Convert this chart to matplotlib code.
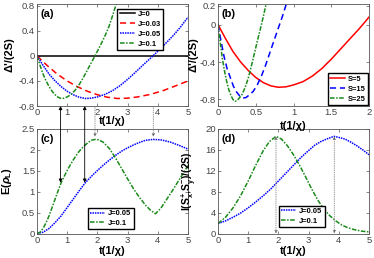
import matplotlib
matplotlib.use("Agg")
import matplotlib.pyplot as plt
from matplotlib.patches import ConnectionPatch
from matplotlib.ticker import FuncFormatter

# (a) Delta'/(2S) vs t for several J
t_a_red = [0, 0.33, 0.67, 1.0, 1.33, 1.67, 2.0, 2.33, 2.67, 3.0, 3.33, 3.75, 4.17, 4.58, 5.0]
d_a_red = [0, -0.15, -0.29, -0.40, -0.49, -0.565, -0.62, -0.66, -0.68, -0.675, -0.655, -0.615, -0.555, -0.48, -0.40]
t_a_blue = [0, 0.2, 0.4, 0.6, 0.8, 1.0, 1.2, 1.4, 1.6, 1.8, 2.0, 2.25, 2.5, 2.75, 3.0,
            3.25, 3.5, 3.75, 4.0, 4.25, 4.5, 4.75, 5.0]
d_a_blue = [0, -0.15, -0.29, -0.40, -0.49, -0.565, -0.62, -0.66, -0.68, -0.675, -0.655, -0.615,
            -0.555, -0.475, -0.375, -0.265, -0.15, -0.04, 0.075, 0.195, 0.32, 0.46, 0.62]
t_a_green = [0, 0.1, 0.2, 0.3, 0.4, 0.5, 0.6, 0.7, 0.8, 0.9, 1.0, 1.125, 1.25, 1.375, 1.5,
             1.625, 1.75, 1.875, 2.0, 2.125, 2.25, 2.375, 2.5, 2.625, 2.75]
d_a_green = [0, -0.15, -0.29, -0.40, -0.49, -0.565, -0.62, -0.66, -0.68, -0.675, -0.655, -0.615,
             -0.555, -0.475, -0.375, -0.265, -0.15, -0.04, 0.075, 0.195, 0.32, 0.46, 0.64, 0.83, 1.02]
t_a_zero = [0, 5]
d_a_zero = [0, 0]
labels_a = ["J=0", "J=0.03", "J=0.05", "J=0.1"]

# (b) Delta'/(2S) vs t for several S
t_b_red = [0, 0.1, 0.2, 0.3, 0.4, 0.5, 0.6, 0.7, 0.8, 0.9, 1.0, 1.125, 1.25, 1.375, 1.5,
           1.625, 1.75, 1.875, 2.0]
d_b_red = [0, -0.15, -0.29, -0.40, -0.49, -0.565, -0.62, -0.655, -0.67, -0.665, -0.645, -0.61,
           -0.55, -0.47, -0.37, -0.26, -0.15, -0.04, 0.08]
t_b_blue = [0, 0.04, 0.08, 0.12, 0.165, 0.205, 0.25, 0.29, 0.33, 0.37, 0.41, 0.465, 0.52,
            0.575, 0.63, 0.685, 0.74, 0.795, 0.85, 0.905, 0.96]
d_b_blue = [0, -0.175, -0.34, -0.47, -0.57, -0.66, -0.725, -0.765, -0.785, -0.78, -0.755, -0.715,
            -0.645, -0.55, -0.435, -0.305, -0.175, -0.047, 0.08, 0.22, 0.34]
t_b_green = [0, 0.028, 0.056, 0.085, 0.113, 0.141, 0.17, 0.198, 0.226, 0.254, 0.282, 0.32, 0.36,
             0.4, 0.44, 0.48, 0.52, 0.56, 0.6, 0.64]
d_b_green = [0, -0.18, -0.355, -0.49, -0.60, -0.69, -0.755, -0.80, -0.82, -0.81, -0.785, -0.745,
             -0.67, -0.575, -0.45, -0.315, -0.18, -0.05, 0.085, 0.23]
labels_b = ["S=5", "S=15", "S=25"]

# (c) entanglement E(rho_L)
t_c_blue = [0, 0.2, 0.4, 0.6, 0.8, 1.0, 1.2, 1.4, 1.6, 1.8, 2.0, 2.2, 2.4, 2.6, 2.8, 3.0, 3.2,
            3.4, 3.6, 3.84, 4.1, 4.4, 4.7, 5.0]
E_c_blue = [0, 0.03, 0.12, 0.26, 0.42, 0.62, 0.82, 1.02, 1.21, 1.36, 1.50, 1.63, 1.75, 1.86, 1.96,
            2.04, 2.11, 2.17, 2.22, 2.24, 2.23, 2.18, 2.10, 2.01]
t_c_green = [0, 0.1, 0.2, 0.3, 0.4, 0.5, 0.6, 0.7, 0.8, 0.9, 1.0, 1.1, 1.2, 1.3, 1.4, 1.5, 1.6,
             1.7, 1.8, 1.92, 2.05, 2.2, 2.4, 2.6, 2.8, 3.0, 3.2, 3.4, 3.6, 3.75, 3.92, 4.1, 4.3,
             4.5, 4.7, 4.85, 5.0]
E_c_green = [0, 0.03, 0.12, 0.26, 0.42, 0.62, 0.82, 1.02, 1.21, 1.36, 1.50, 1.63, 1.75, 1.86,
             1.96, 2.04, 2.11, 2.17, 2.22, 2.24, 2.23, 2.17, 2.02, 1.80, 1.55, 1.30, 1.06, 0.85,
             0.67, 0.56, 0.47, 0.60, 0.82, 1.04, 1.27, 1.44, 1.62]

# (d) I(Sx+, Sy-)/(2S)
t_d_blue = [0, 0.25, 0.5, 0.75, 1.0, 1.25, 1.5, 1.75, 2.0, 2.25, 2.5, 2.75, 3.0, 3.2, 3.4, 3.6,
            3.84, 4.0, 4.2, 4.4, 4.6, 4.8, 5.0]
I_d_blue = [1.9, 2.4, 3.1, 3.9, 4.9, 6.0, 7.2, 8.5, 10.0, 11.5, 13.0, 14.5, 15.8, 16.8, 17.5,
            18.0, 18.5, 18.3, 18.0, 17.4, 16.7, 15.9, 15.0]
t_d_green = [0, 0.25, 0.5, 0.75, 1.0, 1.25, 1.5, 1.7, 1.92, 2.1, 2.3, 2.5, 2.7, 2.9, 3.1, 3.3,
             3.5, 3.7, 3.9, 4.1, 4.3, 4.5, 4.75, 5.0]
I_d_green = [1.9, 3.1, 4.9, 7.2, 10.0, 13.0, 15.8, 17.5, 18.5, 18.0, 16.7, 15.0, 13.0, 10.8, 8.5,
             6.4, 4.7, 3.4, 2.4, 1.6, 1.1, 0.75, 0.45, 0.3]
labels_cd = ["J=0.05", "J=0.1"]

# times marked by the arrows (minima and zero crossings of panel a)
t_min = [0.78, 1.58]
t_zero = [1.92, 3.85]

RED, BLUE, GREEN = "#ff0000", "#0000ff", "#1a8a1a"
AXC = "#555555"

plt.rcParams["font.family"] = ["Liberation Sans", "DejaVu Sans"]
plt.rcParams["mathtext.fontset"] = "custom"
plt.rcParams["mathtext.rm"] = "Liberation Sans:bold"
plt.rcParams["mathtext.it"] = "Liberation Sans:italic:bold"
plt.rcParams["mathtext.bf"] = "Liberation Sans:bold"
plt.rcParams["axes.unicode_minus"] = False

fig = plt.figure(figsize=(3.74, 2.58), dpi=100)
W, H = 374, 258


def add_ax(x0, x1, y0, y1):
    return fig.add_axes([x0 / W, 1 - y1 / H, (x1 - x0) / W, (y1 - y0) / H])


ax_a = add_ax(37, 188, 4, 106)
ax_b = add_ax(218, 369, 4, 106)
ax_c = add_ax(37, 188, 128.5, 233.5)
ax_d = add_ax(218, 369, 128.5, 233.5)
# top row drawn last so its x labels are not hidden by the lower panels
ax_a.set_zorder(2)
ax_b.set_zorder(2)

fmt = FuncFormatter(lambda v, p: ("%g" % round(v, 3)))
leg_kw = dict(prop={"weight": "bold", "size": 5.4}, frameon=True, fancybox=False,
              edgecolor="black", framealpha=1, handlelength=2.0, labelspacing=0.35,
              borderpad=0.3, handletextpad=0.4)
lab_kw = dict(fontsize=8, fontweight="bold")

for ax in (ax_a, ax_b, ax_c, ax_d):
    for s in ax.spines.values():
        s.set_color(AXC)
        s.set_linewidth(0.6)
    ax.tick_params(direction="in", length=2.2, width=0.5, color=AXC, labelcolor="#444444",
                   labelsize=6.8, top=True, right=True, pad=1.5)
    ax.xaxis.set_major_formatter(fmt)
    ax.yaxis.set_major_formatter(fmt)

lw = 1.1

# panel (a)
ax_a.plot(t_a_zero, d_a_zero, color="black", lw=lw, label=labels_a[0])
ax_a.plot(t_a_red, d_a_red, color=RED, lw=lw, ls=(0, (4, 2.5)), label=labels_a[1])
ax_a.plot(t_a_blue, d_a_blue, color=BLUE, lw=lw, ls=(0, (1, 0.6)), label=labels_a[2])
ax_a.plot(t_a_green, d_a_green, color=GREEN, lw=lw, ls=(0, (3, 1, 1, 1)), label=labels_a[3])
ax_a.set_xlim(0, 5)
ax_a.set_ylim(-0.8, 0.83)
ax_a.set_yticks([-0.8, -0.4, 0, 0.4, 0.8])
ax_a.set_xticks([0, 1, 2, 3, 4, 5])
ax_a.set_ylabel("Δ'/(2S)", **lab_kw)
ax_a.set_xlabel("t(1/χ)", **lab_kw)
ax_a.yaxis.set_label_coords(-0.15, 0.5)
ax_a.xaxis.set_label_coords(0.5, -0.1)
ax_a.legend(loc="upper right", bbox_to_anchor=(0.835, 0.955), borderaxespad=0, **leg_kw)
ax_a.text(0.025, 0.95, "(a)", transform=ax_a.transAxes, fontsize=8, fontweight="bold",
          va="top", ha="left")

# panel (b)
ax_b.plot(t_b_red, d_b_red, color=RED, lw=lw, label=labels_b[0])
ax_b.plot(t_b_blue, d_b_blue, color=BLUE, lw=lw, ls=(0, (4, 2.5)), label=labels_b[1])
ax_b.plot(t_b_green, d_b_green, color=GREEN, lw=lw, ls=(0, (3, 1, 1, 1)), label=labels_b[2])
ax_b.set_xlim(0, 2)
ax_b.set_ylim(-0.87, 0.22)
ax_b.set_yticks([-0.8, -0.4, 0, 0.2])
ax_b.set_xticks([0, 0.5, 1, 1.5, 2])
ax_b.set_ylabel("Δ'/(2S)", **lab_kw)
ax_b.set_xlabel("t(1/χ)", **lab_kw)
ax_b.yaxis.set_label_coords(-0.13, 0.5)
ax_b.xaxis.set_label_coords(0.5, -0.15)
ax_b.legend(loc="lower right", bbox_to_anchor=(1.0, 0.0), borderaxespad=0.15, **leg_kw)
ax_b.text(0.025, 0.95, "(b)", transform=ax_b.transAxes, fontsize=8, fontweight="bold",
          va="top", ha="left")

# panel (c)
ax_c.plot(t_c_blue, E_c_blue, color=BLUE, lw=lw, ls=(0, (1, 0.6)), label=labels_cd[0])
ax_c.plot(t_c_green, E_c_green, color=GREEN, lw=lw, ls=(0, (3, 1, 1, 1)), label=labels_cd[1])
ax_c.set_xlim(0, 5)
ax_c.set_ylim(0, 2.5)
ax_c.set_yticks([0, 0.5, 1, 1.5, 2, 2.5])
ax_c.set_xticks([0, 1, 2, 3, 4, 5])
ax_c.set_ylabel(r"E($\rho_\mathrm{L}$)", **lab_kw)
ax_c.set_xlabel("t(1/χ)", **lab_kw)
ax_c.yaxis.set_label_coords(-0.15, 0.5)
ax_c.xaxis.set_label_coords(0.5, -0.115)
ax_c.legend(loc="lower left", bbox_to_anchor=(0.338, 0.04), borderaxespad=0, **leg_kw)
ax_c.text(0.025, 0.95, "(c)", transform=ax_c.transAxes, fontsize=8, fontweight="bold",
          va="top", ha="left")

# panel (d)
ax_d.plot(t_d_blue, I_d_blue, color=BLUE, lw=lw, ls=(0, (1, 0.6)), label=labels_cd[0])
ax_d.plot(t_d_green, I_d_green, color=GREEN, lw=lw, ls=(0, (3, 1, 1, 1)), label=labels_cd[1])
ax_d.set_xlim(0, 5)
ax_d.set_ylim(0, 20)
ax_d.set_yticks([0, 4, 8, 12, 16, 20])
ax_d.set_xticks([0, 1, 2, 3, 4, 5])
ax_d.set_ylabel(r"I(S$_\mathrm{x}^\mathrm{+}$,S$_\mathrm{y}^\mathrm{-}$)/(2S)", fontsize=7.5,
                fontweight="bold")
ax_d.set_xlabel("t(1/χ)", **lab_kw)
ax_d.yaxis.set_label_coords(-0.135, 0.5)
ax_d.xaxis.set_label_coords(0.5, -0.115)
ax_d.legend(loc="lower left", bbox_to_anchor=(0.404, 0.06), borderaxespad=0, **leg_kw)
ax_d.text(0.025, 0.95, "(d)", transform=ax_d.transAxes, fontsize=8, fontweight="bold",
          va="top", ha="left")


def e_at(ts, vs, t):
    # value of the curve at the sample nearest t
    i = min(range(len(ts)), key=lambda k: abs(ts[k] - t))
    return vs[i]


# solid arrows: minima of (a) down to (c)
for t, (ts, vs) in zip(t_min, [(t_c_green, E_c_green), (t_c_blue, E_c_blue)]):
    con = ConnectionPatch(xyA=(t, -0.8), coordsA=ax_a.transData,
                          xyB=(t, e_at(ts, vs, t)), coordsB=ax_c.transData,
                          arrowstyle="<|-|>", mutation_scale=5, lw=0.6, color="black",
                          shrinkA=0, shrinkB=0)
    fig.add_artist(con)

# dotted arrows: zero crossings of (a) down to maxima of (c)
for t in t_zero:
    con = ConnectionPatch(xyA=(t, 0), coordsA=ax_a.transData,
                          xyB=(t, max(E_c_green) + 0.06), coordsB=ax_c.transData,
                          arrowstyle="<|-|>", mutation_scale=4, lw=0.6, ls=":",
                          color="#888888", fc="#333333", shrinkA=0, shrinkB=0)
    fig.add_artist(con)
    ax_d.annotate("", xy=(t, max(I_d_green)), xytext=(t, 0),
                  arrowprops=dict(arrowstyle="<|-|>", mutation_scale=4, lw=0.6, ls=":",
                                  color="#888888", fc="#333333", shrinkA=0, shrinkB=0))

fig.savefig("out.png", dpi=100)
